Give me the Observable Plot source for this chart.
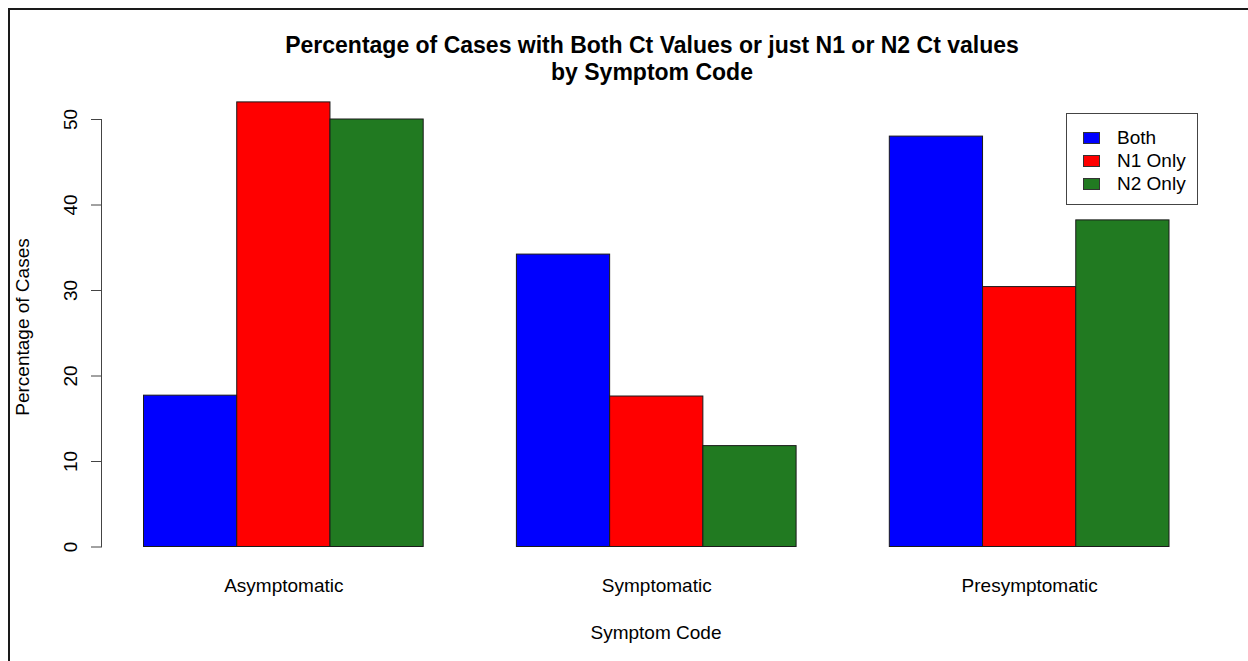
<!DOCTYPE html>
<html>
<head>
<meta charset="utf-8">
<script src="https://cdn.jsdelivr.net/npm/d3@7"></script>
<script src="https://cdn.jsdelivr.net/npm/@observablehq/plot@0.6"></script>
<style>
  body { margin: 0; background: #fff; }
  #wrap { position: relative; width: 1248px; height: 661px; overflow: hidden; background: #fff;
          font-family: "Liberation Sans", Arial, Helvetica, sans-serif; color: #000; }
  #frame { position: absolute; left: 8px; top: 8px; width: 1400px; height: 800px;
           border-left: 2px solid #1a1a1a; border-top: 2px solid #1a1a1a; }
  #chart { position: absolute; left: 0; top: 0; }
  #title { position: absolute; left: 652px; top: 32px; transform: translateX(-50%);
           font-weight: bold; font-size: 23px; line-height: 27px; text-align: center; white-space: nowrap; }
  #xlab { position: absolute; left: 656px; top: 621px; transform: translateX(-50%);
          font-size: 19px; line-height: 24px; white-space: nowrap; }
  #ylab { position: absolute; left: 23px; top: 327px; transform: translate(-50%, -50%) rotate(-90deg);
          font-size: 19px; line-height: 24px; white-space: nowrap; }
  #legend { position: absolute; left: 1066px; top: 113px; width: 130px; height: 90px;
            border: 1px solid #444; background: #fff; }
  .row { position: absolute; left: 0; height: 24px; width: 130px; }
  .sw { position: absolute; left: 16px; top: 6px; width: 15px; height: 10px; border: 1px solid #333; }
  .lt { position: absolute; left: 50px; top: 0; font-size: 19px; line-height: 24px; white-space: nowrap; }
</style>
</head>
<body>
<div id="wrap">
  <div id="frame"></div>
  <div id="chart"></div>
  <div id="title"></div>
  <div id="xlab"></div>
  <div id="ylab"></div>
  <div id="legend"></div>
</div>
<script>
// ---- data ----
const groups = ["Asymptomatic", "Symptomatic", "Presymptomatic"];
const series = ["Both", "N1 Only", "N2 Only"];
const both   = [17.7, 34.2, 48.0];
const n1Only = [52.0, 17.6, 30.4];
const n2Only = [50.0, 11.8, 38.2];
const colors = ["#0000FF", "#FF0000", "#217A21"];
const yTicks = [0, 10, 20, 30, 40, 50];
const titleLines = ["Percentage of Cases with Both Ct Values or just N1 or N2 Ct values", "by Symptom Code"];
const xTitle = "Symptom Code";
const yTitle = "Percentage of Cases";

const seriesValues = [both, n1Only, n2Only];
const rows = groups.flatMap((g, i) => series.map((s, j) => ({group: g, series: s, value: seriesValues[j][i]})));

const plot = Plot.plot({
  width: 1248,
  height: 661,
  marginLeft: 101,
  marginRight: 79,
  marginTop: 119,
  marginBottom: 114.5,
  style: {fontFamily: '"Liberation Sans", Arial, Helvetica, sans-serif', fontSize: "19px", background: "transparent", overflow: "visible", color: "#000"},
  fx: {domain: groups, paddingInner: 0.136, paddingOuter: 0, round: false, axis: null, label: null},
  x: {domain: series, padding: 0, insetLeft: 42.5, round: false, axis: null, label: null},
  y: {domain: [0, 50], axis: null, label: null},
  color: {domain: series, range: colors},
  marks: [
    Plot.barY(rows, {fx: "group", x: "series", y: "value", fill: "series", stroke: "#1a1a1a", strokeWidth: 1}),
    Plot.frame({anchor: "left", facetAnchor: "left", stroke: "#444", strokeWidth: 1}),
    Plot.axisY(yTicks, {anchor: "left", tickSize: 10, tickPadding: 15, tickRotate: -90, stroke: "#444", fill: "#000", fontSize: 19, label: null}),
    Plot.text(groups, {fx: d => d, x: () => series[1], text: d => d, frameAnchor: "bottom", dy: 39, lineAnchor: "middle", fontSize: 19, fill: "#000"})
  ]
});
document.getElementById("chart").appendChild(plot);

document.getElementById("title").innerHTML = titleLines.join("<br>");
document.getElementById("xlab").textContent = xTitle;
document.getElementById("ylab").textContent = yTitle;

const legend = document.getElementById("legend");
series.forEach((s, i) => {
  const row = document.createElement("div");
  row.className = "row";
  row.style.top = (12 + i * 23) + "px";
  const sw = document.createElement("div");
  sw.className = "sw";
  sw.style.background = colors[i];
  const t = document.createElement("div");
  t.className = "lt";
  t.textContent = s;
  row.appendChild(sw);
  row.appendChild(t);
  legend.appendChild(row);
});
</script>
</body>
</html>
